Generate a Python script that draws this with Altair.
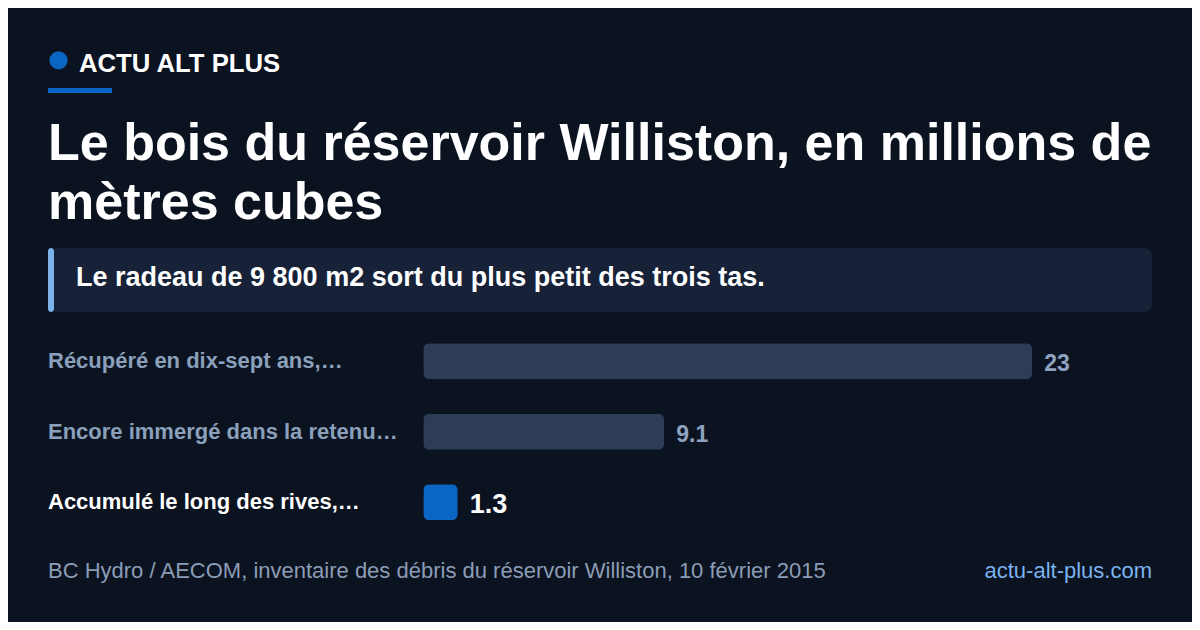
import altair as alt
import pandas as pd

# ---- data ----
categories = [
    "Récupéré en dix-sept ans,…",
    "Encore immergé dans la retenu…",
    "Accumulé le long des rives,…",
]
values = [23, 9.1, 1.3]
value_labels = ["23", "9.1", "1.3"]
highlight = "Accumulé le long des rives,…"

brand = "ACTU ALT PLUS"
title_lines = ["Le bois du réservoir Williston, en millions de", "mètres cubes"]
subtitle = "Le radeau de 9 800 m2 sort du plus petit des trois tas."
source = "BC Hydro / AECOM, inventaire des débris du réservoir Williston, 10 février 2015"
site = "actu-alt-plus.com"

BG = "#0b1220"
FONT = "Liberation Sans"
W, H = 1184, 614
OFF = 8  # page margin

df = pd.DataFrame({"cat": categories, "val": values, "lab": value_labels})
one = pd.DataFrame({"k": [0]})

def px(v):
    return v - OFF

is_hi = alt.datum.cat == highlight

yscale = alt.Scale(
    type="band",
    domain=categories,
    range=[px(343.3), px(520.3)],
    paddingInner=0.489,
    paddingOuter=0,
)
xscale = alt.Scale(domain=[0, 23], range=[px(423.3), px(1032.3)])

y_enc = alt.Y("cat:N", scale=yscale, axis=None, sort=categories)

bars = alt.Chart(df).mark_bar(cornerRadius=6).encode(
    x=alt.X("val:Q", scale=xscale, axis=None),
    y=y_enc,
    color=alt.condition(is_hi, alt.value("#0b66c3"), alt.value("#2d3d56")),
)

cat_text = alt.Chart(df).mark_text(
    align="left", baseline="middle", font=FONT, fontWeight="bold", fontSize=22
).encode(
    x=alt.value(px(48)),
    y=y_enc,
    text="cat:N",
    color=alt.condition(is_hi, alt.value("#ffffff"), alt.value("#8aa0bb")),
)

val_text = alt.Chart(df).mark_text(
    align="left", baseline="middle", font=FONT, fontWeight="bold", dx=12, dy=3
).encode(
    x=alt.X("val:Q", scale=xscale, axis=None),
    y=y_enc,
    text="lab:N",
    color=alt.condition(is_hi, alt.value("#ffffff"), alt.value("#8ea3c0")),
    size=alt.condition(is_hi, alt.value(27), alt.value(23)),
)

base = alt.Chart(one)

dot = base.mark_circle(opacity=1, color="#0b66c3").encode(
    x=alt.value(px(58.5)), y=alt.value(px(60.3)), size=alt.value(330)
)
brand_t = base.mark_text(
    align="left", baseline="alphabetic", font=FONT, fontWeight="bold", fontSize=25.7, color="#ffffff"
).encode(x=alt.value(px(79)), y=alt.value(px(71.7)), text=alt.value(brand))
underline = base.mark_rect(color="#0b66c3").encode(
    x=alt.value(px(48)), x2=alt.value(px(112)), y=alt.value(px(88)), y2=alt.value(px(93))
)
title_t = base.mark_text(
    align="left", baseline="alphabetic", font=FONT, fontWeight="bold", fontSize=52,
    color="#ffffff", lineHeight=59,
).encode(x=alt.value(px(48)), y=alt.value(px(160)), text=alt.value(title_lines))
sub_box = base.mark_rect(color="#172238", cornerRadius=8).encode(
    x=alt.value(px(48)), x2=alt.value(px(1152)), y=alt.value(px(248)), y2=alt.value(px(312))
)
sub_acc = base.mark_rect(color="#7cb3ec", cornerRadius=3).encode(
    x=alt.value(px(48)), x2=alt.value(px(54)), y=alt.value(px(248)), y2=alt.value(px(312))
)
sub_t = base.mark_text(
    align="left", baseline="alphabetic", font=FONT, fontWeight="bold", fontSize=27, color="#ffffff"
).encode(x=alt.value(px(76)), y=alt.value(px(286)), text=alt.value(subtitle))
src_t = base.mark_text(
    align="left", baseline="alphabetic", font=FONT, fontSize=22, color="#8b9db6"
).encode(x=alt.value(px(48)), y=alt.value(px(577.5)), text=alt.value(source))
site_t = base.mark_text(
    align="right", baseline="alphabetic", font=FONT, fontSize=22, color="#7ab3ef"
).encode(x=alt.value(px(1152)), y=alt.value(px(577.5)), text=alt.value(site))

chart = alt.layer(
    sub_box, sub_acc, dot, brand_t, underline, title_t, sub_t,
    bars, cat_text, val_text, src_t, site_t,
).properties(
    width=W, height=H, background=BG, padding=0, autosize=alt.AutoSizeParams(type="none")
).configure_view(stroke=None)

chart.save("out.html", embed_options={"renderer": "svg", "actions": False})
